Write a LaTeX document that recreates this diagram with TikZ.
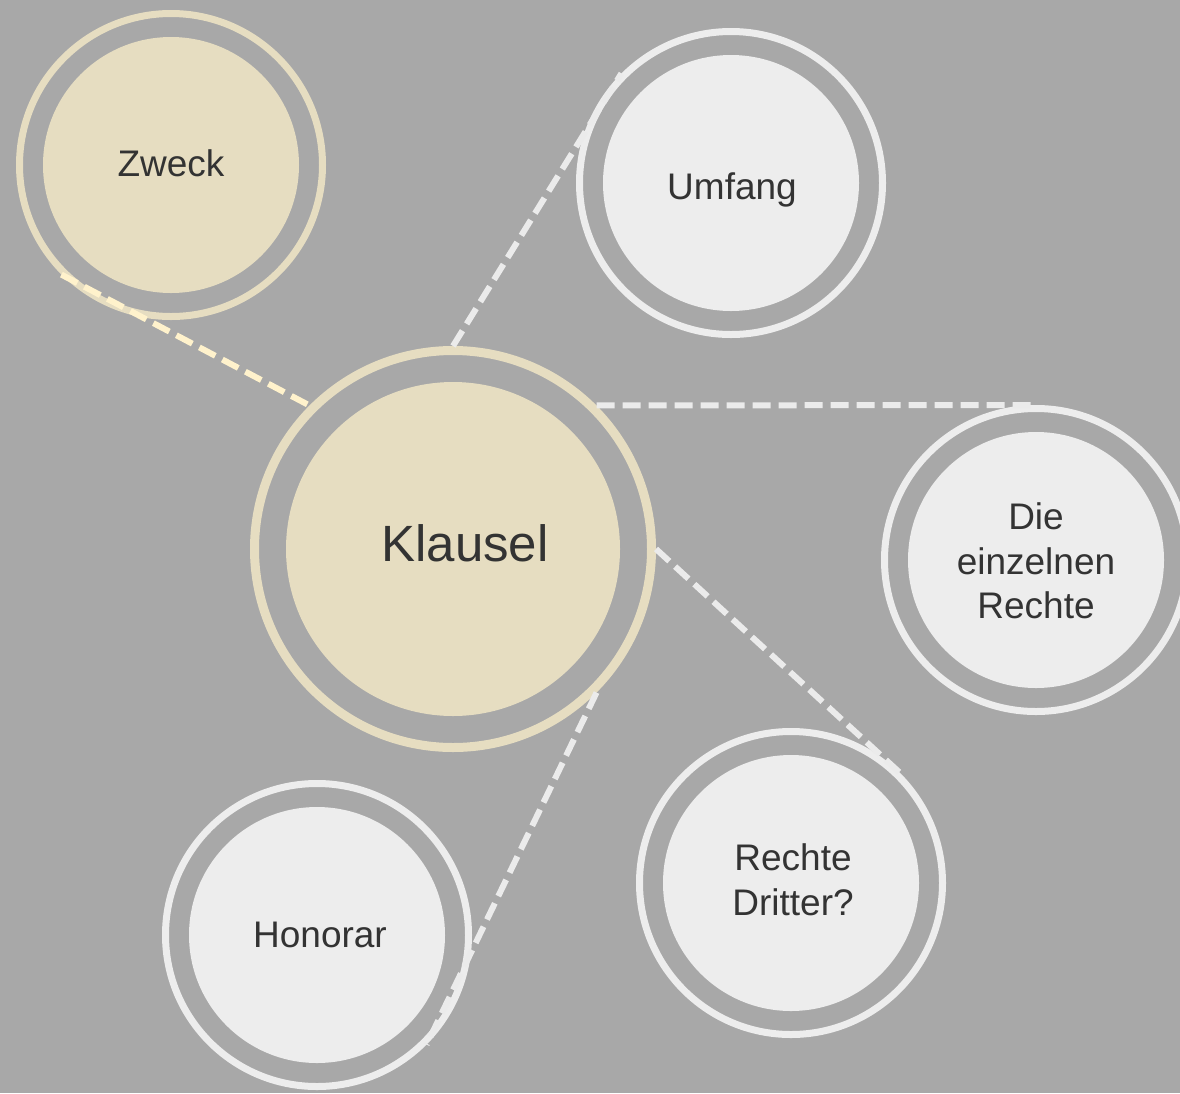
\documentclass[tikz,border=0pt]{standalone}
\usepackage{fontspec}
\setmainfont{Liberation Sans}
\definecolor{bg}{HTML}{A8A8A8}
\definecolor{cream}{HTML}{E6DDC1}
\definecolor{creamline}{HTML}{FFF2CC}
\definecolor{lgray}{HTML}{EDEDED}
\definecolor{lline}{HTML}{EBEBEB}
\definecolor{txt}{HTML}{333333}
\begin{document}
\begin{tikzpicture}[x=1pt,y=-1pt,
  ring/.style={circle,line width=7pt,minimum size=303pt,inner sep=0pt},
  creamring/.style={ring,draw=cream},
  grayring/.style={ring,draw=lgray},
  disk/.style={circle,minimum size=256pt,inner sep=0pt},
  labeltext/.style={text=txt,font=\fontsize{37}{44.5}\selectfont,align=center,inner sep=0pt},
  link/.style={line width=6pt,dash pattern=on 18pt off 8pt}
]
\clip (0,0) rectangle (1180,1093);
\fill[bg] (0,0) rectangle (1180,1093);

% Zweck
\node[creamring] (zweck) at (171,165) {};
\node[disk,fill=cream] (zweckdisk) at (171,165) {};
\node[labeltext] (zwecktext) at (171,163) {Zweck};

% Klausel
\node[circle,line width=9pt,minimum size=397pt,inner sep=0pt,draw=cream] (klausel) at (453,549) {};
\node[circle,minimum size=334pt,inner sep=0pt,fill=cream] (klauseldisk) at (453,549) {};
\node[labeltext,font=\fontsize{51}{60}\selectfont] (klauseltext) at (465,543) {Klausel};

% Umfang
\node[grayring] (umfang) at (731,183) {};
\node[disk,fill=lgray] (umfangdisk) at (731,183) {};
\node[labeltext] (umfangtext) at (732,190) {Umfang};

% Die einzelnen Rechte
\node[grayring] (rechte) at (1036,560) {};
\node[disk,fill=lgray] (rechtedisk) at (1036,560) {};
\node[labeltext] (rechtetext) at (1036,561) {Die\\einzelnen\\Rechte};

% Rechte Dritter
\node[grayring] (dritter) at (791,883) {};
\node[disk,fill=lgray] (dritterdisk) at (791,883) {};
\node[labeltext] (drittertext) at (793,880) {Rechte\\Dritter?};

% Honorar
\node[grayring] (honorar) at (317,935) {};
\node[disk,fill=lgray] (honorardisk) at (317,935) {};
\node[labeltext] (honorartext) at (320,935) {Honorar};

% connectors
\draw[link,draw=creamline] (zweck.-135) -- (klausel.135);
\draw[link,draw=lline] (klausel.90) -- (umfang.135);
\draw[link,draw=lline] (klausel.45) -- (rechte.90);
\draw[link,draw=lline] (klausel.0) -- (dritter.45);
\draw[link,draw=lline] (klausel.-45) -- (honorar.-45);
\end{tikzpicture}
\end{document}
